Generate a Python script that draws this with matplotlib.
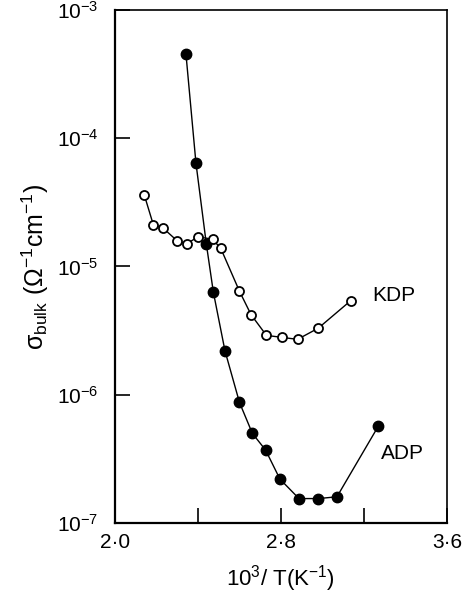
import matplotlib
matplotlib.use("Agg")
import matplotlib.pyplot as plt

# ADP (filled circles)
adp_x = [2.342, 2.39, 2.44, 2.474, 2.53, 2.60, 2.662, 2.726, 2.795, 2.887, 2.98, 3.07, 3.27]
adp_y = [4.5e-4, 6.4e-5, 1.5e-5, 6.3e-6, 2.2e-6, 8.7e-7, 5.0e-7, 3.7e-7, 2.2e-7, 1.55e-7, 1.55e-7, 1.6e-7, 5.7e-7]

# KDP (open circles)
kdp_x = [2.141, 2.185, 2.23, 2.30, 2.345, 2.40, 2.47, 2.51, 2.60, 2.656, 2.73, 2.803, 2.88, 2.98, 3.136]
kdp_y = [3.6e-5, 2.1e-5, 2.0e-5, 1.58e-5, 1.5e-5, 1.7e-5, 1.63e-5, 1.38e-5, 6.4e-6, 4.2e-6, 2.9e-6, 2.8e-6, 2.7e-6, 3.3e-6, 5.4e-6]

xticks = [2.0, 2.4, 2.8, 3.2, 3.6]
xtick_labels = ["2\u00b70", "", "2\u00b78", "", "3\u00b76"]
yticks = [1e-7, 1e-6, 1e-5, 1e-4, 1e-3]
ytick_labels = ["$10^{-7}$", "$10^{-6}$", "$10^{-5}$", "$10^{-4}$", "$10^{-3}$"]

plt.rcParams['font.family'] = ['Liberation Sans', 'DejaVu Sans']
plt.rcParams['mathtext.fontset'] = 'custom'
plt.rcParams['mathtext.rm'] = 'Liberation Sans'
plt.rcParams['mathtext.it'] = 'Liberation Sans'
plt.rcParams['mathtext.sf'] = 'Liberation Sans'

fig = plt.figure(figsize=(4.64, 5.96), dpi=100)
ax = fig.add_axes([0.248, 0.1225, 0.715, 0.861])

ax.plot(adp_x, adp_y, '-', color='black', lw=1.0, marker='o', ms=7.5,
        mfc='black', mec='black')
ax.plot(kdp_x, kdp_y, '-', color='black', lw=1.0, marker='o', ms=6.5,
        mfc='white', mec='black', mew=1.3)

ax.set_yscale('log')
ax.set_xlim(2.0, 3.6)
ax.set_ylim(1e-7, 1e-3)

ax.set_xticks(xticks)
ax.set_xticklabels(xtick_labels, fontsize=15)
ax.set_yticks(yticks)
ax.set_yticklabels(ytick_labels, fontsize=15)
ax.minorticks_off()
ax.tick_params(direction='in', length=11, width=1.2)
ax.tick_params(axis='y', pad=12)
ax.tick_params(axis='x', pad=7)

for side in ['left', 'bottom']:
    ax.spines[side].set_linewidth(1.6)
for side in ['top', 'right']:
    ax.spines[side].set_linewidth(1.2)

ax.text(3.24, 5.9e-6, "KDP", fontsize=15, va='center', ha='left')
ax.text(3.28, 3.5e-7, "ADP", fontsize=15, va='center', ha='left')

ax.set_xlabel("$10^{3}$/ T(K$^{-1}$)", fontsize=16, labelpad=8)
ax.set_ylabel("$\\sigma_{\\mathrm{bulk}}$ ($\\Omega^{-1}$cm$^{-1}$)", fontsize=18, labelpad=4)

fig.savefig("out.png", dpi=100)
